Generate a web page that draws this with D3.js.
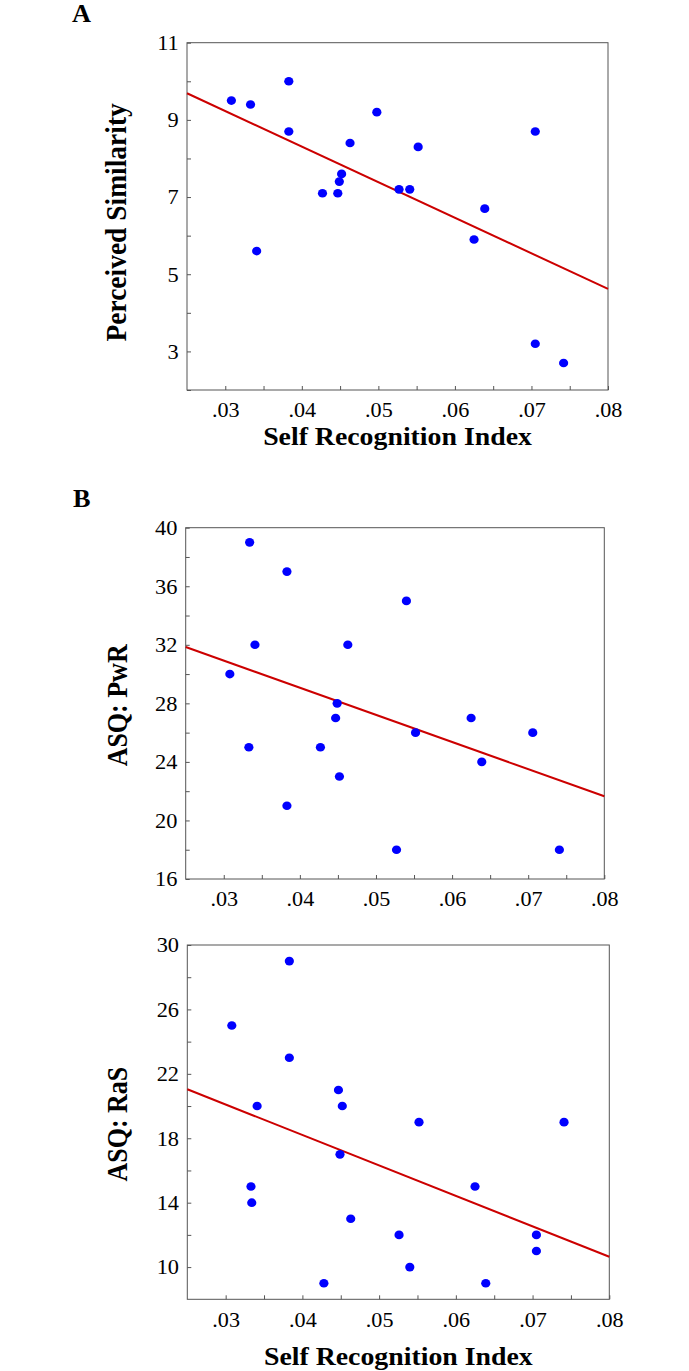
<!DOCTYPE html>
<html>
<head>
<meta charset="utf-8">
<script src="https://cdn.jsdelivr.net/npm/d3@7/dist/d3.min.js"></script>
<style>
  html, body { margin: 0; padding: 0; background: #fff; }
  svg text { font-family: "Liberation Serif", "Times New Roman", serif; fill: #000; }
</style>
</head>
<body>
<svg id="chart" width="689" height="1371"></svg>
<script>
// ---- Data ----
const xTickValues = [0.03, 0.035, 0.04, 0.045, 0.05, 0.055, 0.06, 0.065, 0.07, 0.075, 0.08];
const xTickLabels = [".03", "", ".04", "", ".05", "", ".06", "", ".07", "", ".08"];

// Panel A: Perceived Similarity
const xA = [0.0308, 0.0333, 0.0383, 0.0383, 0.0341, 0.0498, 0.0463, 0.0552, 0.0452, 0.0449,
            0.0427, 0.0447, 0.0527, 0.0541, 0.0639, 0.0625, 0.0705, 0.0705, 0.0742];
const yA = [9.5, 9.4, 10.0, 8.7, 5.6, 9.2, 8.4, 8.3, 7.6, 7.4,
            7.1, 7.1, 7.2, 7.2, 6.7, 5.9, 8.7, 3.2, 2.7];
const yTicksA = [2, 3, 4, 5, 6, 7, 8, 9, 10, 11];
const yTickLabelsA = ["", "3", "", "5", "", "7", "", "9", "", "11"];
const fitA = [9.69, 4.62];

// Panel B (top): ASQ: PwR
const xPwR = [0.0334, 0.0383, 0.0540, 0.0341, 0.0463, 0.0308, 0.0449, 0.0447, 0.0625, 0.0552,
              0.0706, 0.0333, 0.0427, 0.0639, 0.0452, 0.0383, 0.0527, 0.0741];
const yPwR = [39, 37, 35, 32, 32, 30, 28, 27, 27, 26,
              26, 25, 25, 24, 23, 21, 18, 18];
const yTicksPwR = [16, 18, 20, 22, 24, 26, 28, 30, 32, 34, 36, 38, 40];
const yTickLabelsPwR = ["16", "", "20", "", "24", "", "28", "", "32", "", "36", "", "40"];
const fitPwR = [31.85, 21.65];

// Panel B (bottom): ASQ: RaS
const xRaS = [0.0383, 0.0308, 0.0383, 0.0447, 0.0452, 0.0341, 0.0552, 0.0741, 0.0449, 0.0333,
              0.0625, 0.0334, 0.0463, 0.0526, 0.0705, 0.0705, 0.0540, 0.0428, 0.0639];
const yRaS = [29, 25, 23, 21, 20, 20, 19, 19, 17, 15,
              15, 14, 13, 12, 12, 11, 10, 9, 9];
const yTicksRaS = [10, 12, 14, 16, 18, 20, 22, 24, 26, 28, 30];
const yTickLabelsRaS = ["10", "", "14", "", "18", "", "22", "", "26", "", "30"];
const fitRaS = [21.04, 10.64];

const xDomain = [0.025, 0.08];
const xFit = [0.025, 0.08];

// ---- Drawing ----
const svg = d3.select("#chart");
const FRAME = "#555";

function panel(opt) {
  const g = svg.append("g");
  const x = d3.scaleLinear().domain(xDomain).range([opt.left, opt.right]);
  const y = d3.scaleLinear().domain(opt.yDomain).range([opt.bottom, opt.top]);

  // frame
  g.append("rect")
    .attr("x", opt.left).attr("y", opt.top)
    .attr("width", opt.right - opt.left).attr("height", opt.bottom - opt.top)
    .attr("fill", "none").attr("stroke", FRAME).attr("stroke-width", 1);

  // x axis (ticks inward)
  const xAxis = d3.axisBottom(x)
    .tickValues(xTickValues)
    .tickFormat((d, i) => xTickLabels[i])
    .tickSize(-4).tickPadding(12);
  const gx = g.append("g").attr("transform", `translate(0,${opt.bottom})`).call(xAxis);
  gx.select(".domain").remove();
  gx.selectAll(".tick line").attr("stroke", FRAME);
  gx.selectAll(".tick text").attr("font-size", 21.5)
    .attr("transform", "scale(1.03,1)")
    .style("font-family", '"Liberation Serif", serif').attr("fill", "#000");

  // y axis (ticks inward)
  const yAxis = d3.axisLeft(y)
    .tickValues(opt.yTicks)
    .tickFormat((d, i) => opt.yTickLabels[i])
    .tickSize(-4).tickPadding(8);
  const gy = g.append("g").attr("transform", `translate(${opt.left},0)`).call(yAxis);
  gy.select(".domain").remove();
  gy.selectAll(".tick line").attr("stroke", FRAME);
  gy.selectAll(".tick text").attr("font-size", 21.5)
    .attr("transform", "scale(1.04,1)")
    .style("font-family", '"Liberation Serif", serif').attr("fill", "#000");

  // regression line
  const line = d3.line().x(d => x(d[0])).y(d => y(d[1]));
  g.append("path")
    .datum(xFit.map((v, i) => [v, opt.fit[i]]))
    .attr("d", line)
    .attr("fill", "none").attr("stroke", "#cc0000").attr("stroke-width", 2);

  // points
  g.append("g").selectAll("ellipse")
    .data(opt.xs.map((v, i) => [v, opt.ys[i]]))
    .join("ellipse")
    .attr("cx", d => x(d[0])).attr("cy", d => y(d[1]))
    .attr("rx", 4.6).attr("ry", 4.3).attr("fill", "#0000ff");

  // y label
  const cy = (opt.top + opt.bottom) / 2 + (opt.yLabelShift || 0);
  g.append("text")
    .attr("transform", `translate(${opt.yLabelX},${cy}) scale(1.1,1) rotate(-90)`)
    .attr("text-anchor", "middle")
    .attr("font-size", opt.yLabelSize).attr("font-weight", "bold")
    .text(opt.yLabel);

  // x label
  if (opt.xLabelY) {
    g.append("text")
      .attr("transform", `translate(${(opt.left + opt.right) / 2},${opt.xLabelY}) scale(1.07,1)`)
      .attr("text-anchor", "middle")
      .attr("font-size", 26).attr("font-weight", "bold")
      .text("Self Recognition Index");
  }
}

panel({
  left: 187, right: 608, top: 42.7, bottom: 390,
  yDomain: [2, 11], yTicks: yTicksA, yTickLabels: yTickLabelsA,
  xs: xA, ys: yA, fit: fitA,
  yLabel: "Perceived Similarity", yLabelX: 126, yLabelShift: 6, yLabelSize: 27.5,
  xLabelY: 445
});

panel({
  left: 185.7, right: 604.3, top: 527.7, bottom: 879,
  yDomain: [16, 40], yTicks: yTicksPwR, yTickLabels: yTickLabelsPwR,
  xs: xPwR, ys: yPwR, fit: fitPwR,
  yLabel: "ASQ: PwR", yLabelX: 127, yLabelShift: 2, yLabelSize: 26
});

panel({
  left: 187.3, right: 609.3, top: 945, bottom: 1299.3,
  yDomain: [8, 30], yTicks: yTicksRaS, yTickLabels: yTickLabelsRaS,
  xs: xRaS, ys: yRaS, fit: fitRaS,
  yLabel: "ASQ: RaS", yLabelX: 127, yLabelShift: 2, yLabelSize: 26,
  xLabelY: 1365
});

// panel letters
svg.append("text").attr("transform", "translate(72,22) scale(1.05,1)")
  .attr("font-size", 25).attr("font-weight", "bold").text("A");
svg.append("text").attr("transform", "translate(73,507) scale(1.05,1)")
  .attr("font-size", 25).attr("font-weight", "bold").text("B");
</script>
</body>
</html>
